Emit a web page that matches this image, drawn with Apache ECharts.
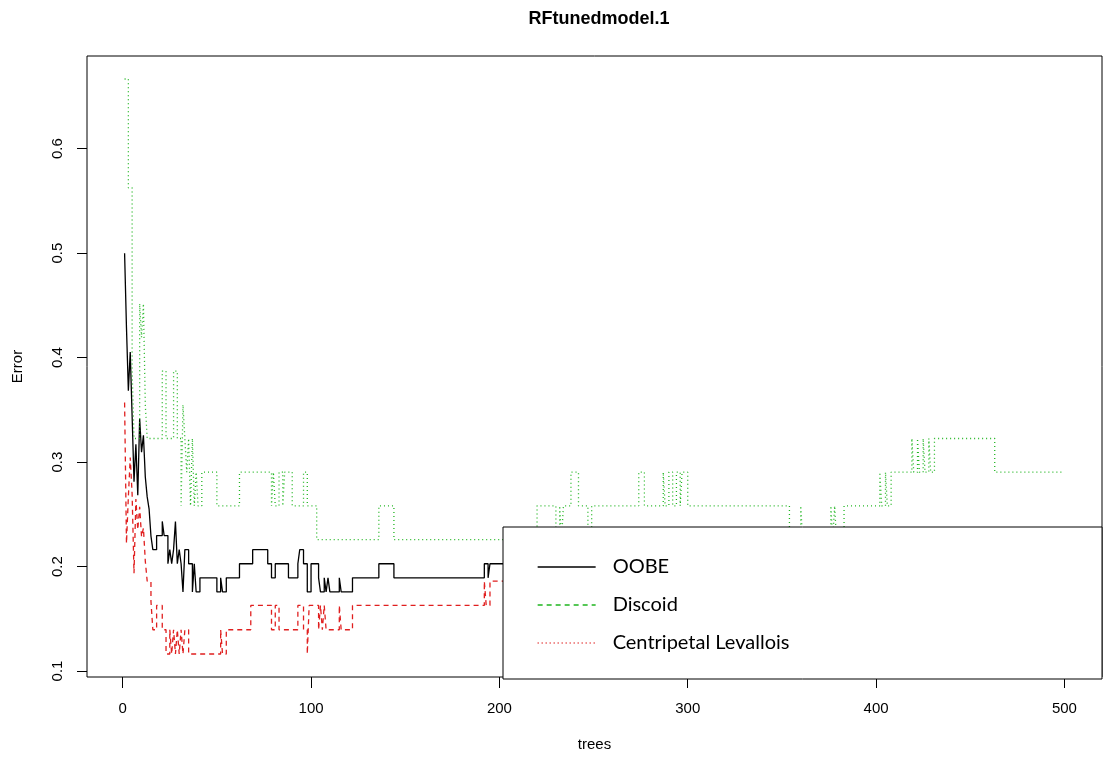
<!DOCTYPE html>
<html>
<head>
<meta charset="utf-8">
<script src="https://cdn.jsdelivr.net/npm/echarts@6/dist/echarts.min.js"></script>
<style>
  html, body { margin: 0; padding: 0; background: #fff; }
  #chart { width: 1105px; height: 757px; }
</style>
</head>
<body>
<div id="chart"></div>
<script>
// error per number of trees: [tree where the value starts, error]
const oobe = [
  [1, 0.5], [2, 0.4286], [3, 0.3684], [4, 0.4054], [5, 0.3438], [6, 0.2813], [7, 0.3171],
  [8, 0.2683], [9, 0.3415], [10, 0.3095], [11, 0.3256], [12, 0.2857], [13, 0.2667], [14, 0.2553],
  [15, 0.2292], [16, 0.2162], [18, 0.2297], [21, 0.2432], [22, 0.2297], [24, 0.2027], [25, 0.2162],
  [26, 0.2027], [27, 0.2162], [28, 0.2432], [29, 0.2027], [30, 0.2162], [31, 0.2027], [32, 0.1757],
  [33, 0.2162], [35, 0.2027], [37, 0.1757], [38, 0.2027], [39, 0.1757], [41, 0.1892], [50, 0.1757],
  [52, 0.1892], [53, 0.1757], [55, 0.1892], [62, 0.2027], [69, 0.2162], [77, 0.2027], [79, 0.1892],
  [81, 0.2027], [88, 0.1892], [93, 0.2027], [94, 0.2162], [96, 0.2027], [98, 0.1757], [100, 0.2027],
  [104, 0.1892], [105, 0.1757], [107, 0.1892], [108, 0.1757], [109, 0.1892], [110, 0.1757],
  [115, 0.1892], [116, 0.1757], [122, 0.1892], [136, 0.2027], [144, 0.1892], [192, 0.2027],
  [194, 0.1892], [195, 0.2027], [203, 0.1892], [248, 0.2027], [256, 0.1892], [318, 0.2027],
  [330, 0.1892], [500, 0.1892]
]

const discoid = [
  [1, 0.6667], [3, 0.5625], [5, 0.3889], [6, 0.3226], [9, 0.4516], [10, 0.4194], [11, 0.4516],
  [12, 0.3548], [13, 0.3226], [21, 0.3871], [23, 0.3226], [27, 0.3871], [29, 0.3226], [31, 0.2581],
  [32, 0.3548], [33, 0.3226], [34, 0.2903], [35, 0.3226], [36, 0.2581], [37, 0.3226], [38, 0.2581],
  [39, 0.2903], [40, 0.2581], [42, 0.2903], [50, 0.2581], [62, 0.2903], [79, 0.2581], [80, 0.2903],
  [81, 0.2581], [83, 0.2903], [85, 0.2581], [86, 0.2903], [90, 0.2581], [96, 0.2903], [98, 0.2581],
  [103, 0.2258], [136, 0.2581], [144, 0.2258], [220, 0.2581], [230, 0.2258], [232, 0.2581],
  [233, 0.2258], [234, 0.2581], [238, 0.2903], [242, 0.2581], [247, 0.2258], [249, 0.2581],
  [274, 0.2903], [277, 0.2581], [287, 0.2903], [288, 0.2581], [290, 0.2903], [292, 0.2581],
  [294, 0.2903], [296, 0.2581], [297, 0.2903], [300, 0.2581], [354, 0.2258], [360, 0.2581],
  [361, 0.2258], [376, 0.2581], [377, 0.2258], [378, 0.2581], [379, 0.2258], [383, 0.2581],
  [402, 0.2903], [403, 0.2581], [405, 0.2903], [406, 0.2581], [408, 0.2903], [419, 0.3226],
  [420, 0.2903], [422, 0.3226], [423, 0.2903], [425, 0.3226], [426, 0.2903], [428, 0.3226],
  [429, 0.2903], [431, 0.3226], [463, 0.2903], [500, 0.2903]
]

const levallois = [
  [1, 0.3571], [2, 0.2222], [3, 0.2667], [4, 0.3043], [5, 0.2692], [6, 0.1935], [7, 0.2647],
  [8, 0.2353], [9, 0.2571], [10, 0.2286], [11, 0.2368], [12, 0.2051], [13, 0.1860], [15, 0.1667],
  [16, 0.1395], [18, 0.1628], [21, 0.1395], [23, 0.1163], [25, 0.1395], [26, 0.1163], [27, 0.1395],
  [28, 0.1163], [29, 0.1395], [30, 0.1163], [31, 0.1395], [32, 0.1163], [33, 0.1395], [35, 0.1163],
  [52, 0.1395], [53, 0.1163], [55, 0.1395], [68, 0.1628], [79, 0.1395], [81, 0.1628], [83, 0.1395],
  [93, 0.1628], [96, 0.1395], [98, 0.1163], [99, 0.1628], [104, 0.1395], [105, 0.1628],
  [106, 0.1395], [107, 0.1628], [108, 0.1395], [115, 0.1628], [116, 0.1395], [122, 0.1628],
  [192, 0.1860], [193, 0.1628], [195, 0.1860], [203, 0.1628], [262, 0.1860], [270, 0.1628],
  [500, 0.1628]
]

const xTicks = [0, 100, 200, 300, 400, 500]
const yTicks = [0.1, 0.2, 0.3, 0.4, 0.5, 0.6]

const BLACK = '#000000'
const GREEN = '#1fb51f'
const RED = '#e01f1f'
const AXIS_FONT = '"Liberation Sans", Arial, Helvetica, sans-serif'
const LEGEND_FONT = '"Liberation Sans Narrow", Lato, "Liberation Sans", sans-serif'

// R pads the data range by 4% on each side
const xMin = 1 - 499 * 0.04
const xMax = 500 + 499 * 0.04
const yMin = 0.1163 - 0.5504 * 0.04
const yMax = 0.6667 + 0.5504 * 0.04

const chart = echarts.init(document.getElementById('chart'), null, { renderer: 'canvas' })

function errSeries(name, data, color, dash) {
  return {
    name: name,
    type: 'line',
    data: data,
    step: 'end',
    symbol: 'none',
    silent: true,
    animation: false,
    clip: true,
    lineStyle: { color: color, width: 1.3, type: dash, cap: 'butt' },
    itemStyle: { color: color }
  }
}

// legend keys are plain lines, no marker
const noMarker = { opacity: 0, borderWidth: 0 }

const option = {
  backgroundColor: '#ffffff',
  animation: false,
  title: {
    text: 'RFtunedmodel.1',
    left: 594,
    top: 5,
    textAlign: 'center',
    textStyle: { fontFamily: AXIS_FONT, fontSize: 18, fontWeight: 'bold', color: '#000' }
  },
  grid: {
    left: 87,
    top: 56,
    right: 3,
    bottom: 78,
    show: true,
    borderColor: '#000',
    borderWidth: 1,
    backgroundColor: 'transparent'
  },
  xAxis: {
    type: 'value',
    min: xMin,
    max: xMax,
    name: 'trees',
    nameLocation: 'middle',
    nameGap: 60,
    nameTextStyle: { fontFamily: AXIS_FONT, fontSize: 15, color: '#000' },
    axisLine: { show: false, onZero: false },
    axisTick: { show: true, inside: false, length: 11, customValues: xTicks, lineStyle: { color: '#000', width: 1 } },
    axisLabel: { customValues: xTicks, margin: 24, fontFamily: AXIS_FONT, fontSize: 15, color: '#000' },
    splitLine: { show: false }
  },
  yAxis: {
    type: 'value',
    min: yMin,
    max: yMax,
    name: 'Error',
    nameLocation: 'middle',
    nameGap: 62,
    nameRotate: 90,
    nameTextStyle: { fontFamily: AXIS_FONT, fontSize: 15, color: '#000' },
    axisLine: { show: false, onZero: false },
    axisTick: { show: true, inside: false, length: 10, customValues: yTicks, lineStyle: { color: '#000', width: 1 } },
    axisLabel: {
      customValues: yTicks,
      rotate: 90,
      margin: 22,
      fontFamily: AXIS_FONT,
      fontSize: 15,
      color: '#000',
      formatter: v => v.toFixed(1)
    },
    splitLine: { show: false }
  },
  legend: {
    orient: 'vertical',
    left: 532,
    top: 552,
    z: 20,
    selectedMode: false,
    itemWidth: 58,
    itemHeight: 20,
    itemGap: 18,
    itemStyle: noMarker,
    textStyle: {
      fontFamily: LEGEND_FONT,
      fontSize: 20,
      lineHeight: 20,
      color: '#000',
      padding: [0, 0, 0, 12]
    },
    data: [
      { name: 'OOBE', itemStyle: noMarker, lineStyle: { type: 'solid', width: 1.3 } },
      { name: 'Discoid', itemStyle: noMarker, lineStyle: { type: [5, 4], width: 1.3 } },
      { name: 'Centripetal Levallois', itemStyle: noMarker, lineStyle: { type: [1, 3], width: 1.3 } }
    ]
  },
  graphic: [{
    type: 'rect',
    z: 10,
    shape: { x: 503, y: 527, width: 599, height: 152 },
    style: { fill: '#ffffff', stroke: '#000', lineWidth: 1 }
  }],
  series: [
    errSeries('OOBE', oobe, BLACK, 'solid'),
    errSeries('Discoid', discoid, GREEN, [1, 3]),
    errSeries('Centripetal Levallois', levallois, RED, [5, 4])
  ]
}

chart.setOption(option)
</script>
</body>
</html>
